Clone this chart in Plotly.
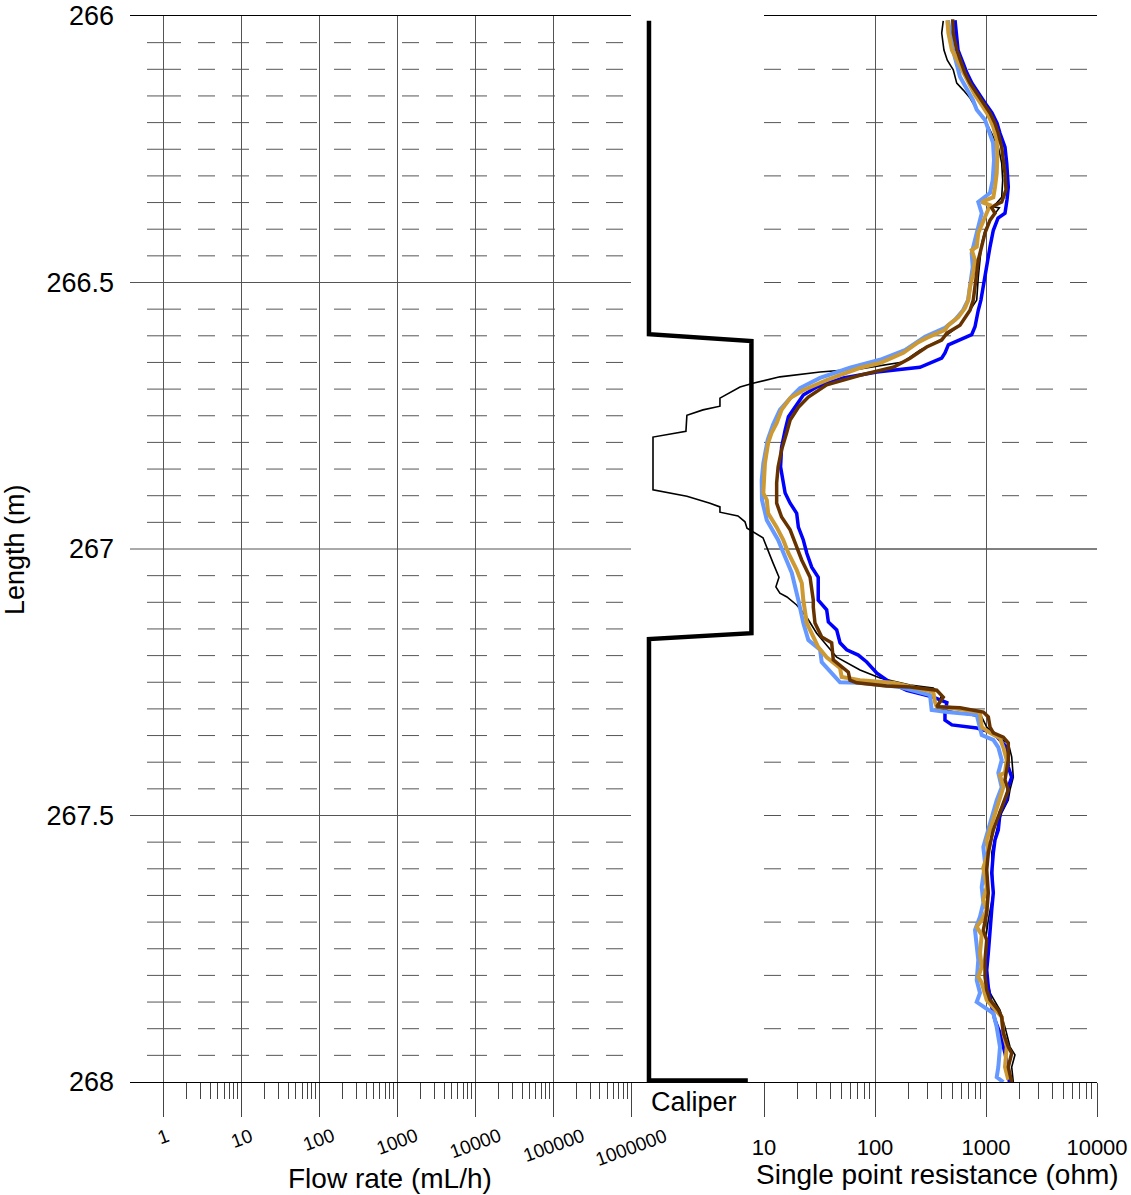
import math
import plotly.graph_objects as go

# ---------------- data ----------------
flow_ticks = [1, 10, 100, 1000, 10000, 100000, 1000000]
flow_tick_text = ["1", "10", "100", "1000", "10000", "100000", "1000000"]
spr_ticks = [10, 100, 1000, 10000]
spr_tick_text = ["10", "100", "1000", "10000"]
depth_ticks = [266, 266.5, 267, 267.5, 268]
depth_tick_text = ["266", "266.5", "267", "267.5", "268"]

# caliper log (relative units)
caliper_depth = [266.009, 266.597, 266.610, 267.158, 267.169, 267.997, 267.997]
caliper_value = [1.0, 1.0, 6.7, 6.7, 1.0, 1.0, 6.5]

# single point resistance logs (ohm)
black_depth = [266.009, 266.032, 266.064, 266.083, 266.101, 266.126, 266.139, 266.154, 266.180, 266.195,
               266.214, 266.246, 266.276, 266.308, 266.340, 266.351, 266.358, 266.360, 266.370, 266.383,
               266.402, 266.426, 266.458, 266.490, 266.533, 266.552, 266.580, 266.608, 266.627, 266.649,
               266.662, 266.668, 266.677, 266.689, 266.696, 266.717, 266.732, 266.739, 266.749, 266.779,
               266.790, 266.889, 266.901, 266.914, 266.921, 266.931, 266.938, 266.949, 266.961, 266.979,
               266.998, 267.026, 267.053, 267.071, 267.083, 267.090, 267.105, 267.128, 267.158, 267.203,
               267.227, 267.242, 267.255, 267.261, 267.274, 267.298, 267.308, 267.315, 267.334, 267.353,
               267.364, 267.390, 267.428, 267.452, 267.471, 267.495, 267.527, 267.570, 267.645, 267.696,
               267.728, 267.771, 267.803, 267.833, 267.865, 267.897, 267.934, 267.949, 267.972, 268.000]
black_ohm = [412, 399, 418, 448, 507, 545, 624, 718, 852, 980,
             1087, 1291, 1385, 1414, 1385, 1249, 1164, 1318, 1205, 1087,
             980, 915, 883, 852, 825, 718, 583, 385, 254, 179,
             73.3, 32, 13.9, 7.96, 6.08, 4.01, 4.01, 2.82, 2.02, 1.98,
             1.00, 1.00, 2.02, 3.26, 4.01, 4.01, 5.83, 6.74, 7.03, 9.79,
             10.6, 12.05, 13.65, 12.8, 13.9, 16.1, 19.7, 24.3, 29.8, 45.2,
             73.3, 111, 207, 335, 399, 360, 583, 915, 1015, 1249,
             1588, 1704, 1762, 1645, 1588, 1385, 1249, 1126, 1164, 1049,
             1000, 1015, 1015, 1087, 1337, 1483, 1645, 1824, 1704, 1762]

blue_depth = [266.008, 266.032, 266.064, 266.088, 266.107, 266.126, 266.144, 266.163, 266.182, 266.201,
              266.220, 266.246, 266.276, 266.321, 266.345, 266.370, 266.379, 266.402, 266.433, 266.471,
              266.508, 266.533, 266.552, 266.570, 266.583, 266.598, 266.617, 266.632, 266.642, 266.659,
              266.662, 266.668, 266.679, 266.696, 266.711, 266.734, 266.752, 266.777, 266.809, 266.846,
              266.871, 266.895, 266.914, 266.933, 266.959, 266.983, 267.008, 267.034, 267.053, 267.096,
              267.114, 267.137, 267.152, 267.176, 267.189, 267.199, 267.212, 267.233, 267.250, 267.265,
              267.278, 267.288, 267.308, 267.321, 267.330, 267.336, 267.345, 267.358, 267.372, 267.409,
              267.428, 267.447, 267.471, 267.495, 267.527, 267.546, 267.570, 267.608, 267.645, 267.677,
              267.728, 267.758, 267.790, 267.822, 267.859, 267.884, 267.908, 267.946, 267.978, 268.000]
blue_ohm = [526, 537, 560, 621, 674, 748, 847, 980, 1133, 1257,
            1337, 1483, 1537, 1588, 1546, 1483, 1283, 1164, 1087, 1015,
            946, 900, 852, 825, 796, 743, 458, 427, 399, 254,
            180, 104, 51.8, 29.8, 22.6, 19.0, 16.6, 15.5, 14.4, 14.1,
            14.9, 15.5, 17.2, 19.7, 20.4, 22.6, 24.3, 26.9, 30.8, 30.8,
            36.7, 38.0, 45.2, 48.4, 55.6, 70.7, 84.2, 104, 136, 193,
            335, 444, 427, 427, 493, 825, 1164, 1337, 1537, 1588,
            1704, 1588, 1537, 1337, 1291, 1205, 1164, 1126, 1164, 1126,
            1087, 1049, 1015, 1049, 1126, 1205, 1337, 1483, 1588, 1622]

lightblue_depth = [266.008, 266.032, 266.064, 266.114, 266.158, 266.176, 266.195, 266.238, 266.270, 266.308,
                   266.332, 266.349, 266.370, 266.407, 266.445, 266.471, 266.508, 266.533, 266.552, 266.570,
                   266.585, 266.602, 266.627, 266.645, 266.660, 266.679, 266.698, 266.711, 266.739, 266.767,
                   266.795, 266.839, 266.871, 266.908, 266.946, 266.983, 267.015, 267.045, 267.096, 267.139,
                   267.171, 267.189, 267.212, 267.250, 267.251, 267.259, 267.274, 267.302, 267.306, 267.311,
                   267.349, 267.358, 267.372, 267.396, 267.420, 267.447, 267.471, 267.495, 267.527, 267.559,
                   267.589, 267.634, 267.664, 267.690, 267.715, 267.747, 267.771, 267.809, 267.833, 267.850,
                   267.871, 267.897, 267.934, 267.972, 267.991, 268.000]
lightblue_ohm = [455, 474, 504, 583, 764, 825, 980, 1157, 1181, 1149,
                 1087, 852, 915, 825, 743, 759, 718, 689, 621, 526,
                 427, 282, 186, 111, 59.5, 32, 21.1, 18.3, 13.9, 12.05,
                 10.8, 9.86, 9.53, 9.59, 10.6, 13.4, 15.5, 17.8, 20.4, 22.6,
                 25.1, 32, 33.1, 48.4, 73.3, 168, 313, 324, 444, 825,
                 915, 1164, 1291, 1385, 1291, 1385, 1249, 1164, 1049, 946,
                 980, 915, 946, 883, 796, 825, 852, 825, 883, 825,
                 1164, 1249, 1337, 1291, 1249, 1432]

tan_depth = [266.008, 266.032, 266.064, 266.088, 266.107, 266.126, 266.148, 266.167, 266.186, 266.208,
             266.233, 266.265, 266.295, 266.321, 266.340, 266.345, 266.349, 266.355, 266.370, 266.388,
             266.407, 266.433, 266.439, 266.458, 266.482, 266.508, 266.533, 266.548, 266.565, 266.580,
             266.589, 266.604, 266.612, 266.632, 266.651, 266.660, 266.683, 266.702, 266.717, 266.739,
             266.764, 266.782, 266.801, 266.839, 266.895, 266.908, 266.933, 266.959, 266.983, 267.008,
             267.039, 267.064, 267.096, 267.139, 267.184, 267.203, 267.223, 267.240, 267.246, 267.251,
             267.268, 267.287, 267.296, 267.298, 267.306, 267.334, 267.345, 267.355, 267.372, 267.396,
             267.420, 267.424, 267.447, 267.477, 267.508, 267.527, 267.546, 267.570, 267.598, 267.634,
             267.658, 267.677, 267.696, 267.709, 267.724, 267.758, 267.784, 267.803, 267.814, 267.846,
             267.859, 267.878, 267.908, 267.934, 267.972, 267.996]
tan_ohm = [448, 458, 493, 563, 624, 693, 796, 915, 1049, 1164,
           1249, 1265, 1249, 1205, 1164, 1015, 915, 1087, 1015, 915,
           852, 825, 743, 796, 768, 718, 693, 647, 563, 458,
           427, 292, 246, 180, 111, 73.3, 36.7, 22.6, 17.2, 14.4,
           13.0, 11.7, 10.9, 10.2, 9.86, 10.6, 10.9, 13.0, 14.9, 16.6,
           19.7, 21.9, 22.6, 24.3, 30.8, 36.7, 48.4, 50.1, 73.3, 146,
           335, 347, 360, 474, 883, 915, 1087, 1337, 1432, 1537,
           1483, 1337, 1432, 1291, 1164, 1087, 1015, 1049, 946, 1015,
           946, 1015, 915, 825, 915, 883, 915, 852, 915, 1015,
           1164, 1385, 1432, 1537, 1483, 1588]

brown_depth = [266.006, 266.032, 266.064, 266.088, 266.107, 266.126, 266.144, 266.163, 266.182, 266.201,
               266.220, 266.246, 266.270, 266.295, 266.326, 266.349, 266.355, 266.360, 266.370, 266.383,
               266.407, 266.433, 266.458, 266.482, 266.508, 266.533, 266.552, 266.567, 266.580, 266.595,
               266.608, 266.621, 266.642, 266.659, 266.674, 266.692, 266.715, 266.734, 266.758, 266.782,
               266.814, 266.846, 266.876, 266.914, 266.940, 266.964, 266.996, 267.021, 267.053, 267.096,
               267.109, 267.139, 267.165, 267.176, 267.208, 267.231, 267.246, 267.251, 267.257, 267.259,
               267.265, 267.278, 267.296, 267.298, 267.306, 267.315, 267.334, 267.345, 267.353, 267.364,
               267.396, 267.415, 267.433, 267.452, 267.484, 267.508, 267.527, 267.540, 267.570, 267.602,
               267.645, 267.683, 267.715, 267.734, 267.771, 267.803, 267.827, 267.846, 267.865, 267.878,
               267.908, 267.934, 267.946, 267.972, 268.000]
brown_ohm = [501, 507, 545, 604, 647, 718, 825, 946, 1087, 1205,
             1291, 1385, 1432, 1483, 1514, 1385, 1205, 1126, 1205, 1087,
             980, 915, 852, 825, 796, 768, 718, 647, 583, 444,
             399, 292, 207, 146, 73.3, 36.7, 25.1, 20.4, 17.2, 16.0,
             14.4, 13.4, 13.0, 13.0, 14.4, 17.2, 19.7, 21.9, 26.0, 27.8,
             27.8, 28.8, 33.1, 40.7, 42.1, 57.5, 59.5, 68.4, 127, 207,
             360, 412, 360, 583, 946, 1049, 1087, 1164, 1432, 1588,
             1588, 1537, 1483, 1588, 1385, 1249, 1164, 1126, 1049, 1015,
             1049, 1015, 946, 1015, 980, 980, 1015, 1087, 1291, 1385,
             1432, 1588, 1704, 1588, 1704]

# ---------------- layout geometry (paper fractions) ----------------
W, H = 1131, 1195
FONT = "Arial, Liberation Sans, sans-serif"
GRID = "#555555"

y_dom = [1 - 1082 / H, 1 - 16 / H]
flow_dom = [130 / W, 631 / W]
cal_dom = [631 / W, 764 / W]
spr_dom = [764 / W, 1097 / W]
spr_wide_dom = [631 / W, 1097 / W]

flow_range = [-0.43, 6]
spr_range = [1, 4]
spr_wide_range = [1 - 133 / 111, 4]


def minor_vals(lo_exp, hi_exp):
    return [m * 10 ** e for e in range(lo_exp, hi_exp) for m in range(2, 10)]


fig = go.Figure()

# empty flow-rate and resistance frames so both tracks get drawn
fig.add_trace(go.Scatter(x=[], y=[], xaxis="x", yaxis="y", mode="lines",
                         showlegend=False, hoverinfo="skip"))
fig.add_trace(go.Scatter(x=[], y=[], xaxis="x3", yaxis="y", mode="lines",
                         showlegend=False, hoverinfo="skip"))

# caliper
fig.add_trace(go.Scatter(x=caliper_value, y=caliper_depth, xaxis="x2", yaxis="y",
                         mode="lines", line=dict(color="black", width=4.5),
                         showlegend=False, hoverinfo="skip"))

# resistance logs, drawn on a wide axis so low readings can run into the caliper track
spr_series = [
    (black_depth, black_ohm, "black", 1.6),
    (blue_depth, blue_ohm, "#0000FF", 3.5),
    (lightblue_depth, lightblue_ohm, "#6699FF", 4),
    (tan_depth, tan_ohm, "#CC9933", 4),
    (brown_depth, brown_ohm, "#663300", 3.5),
]
for d, r, c, w in spr_series:
    fig.add_trace(go.Scatter(x=r, y=d, xaxis="x4", yaxis="y", mode="lines",
                             line=dict(color=c, width=w), showlegend=False,
                             hoverinfo="skip"))

# ---------------- gridlines as shapes ----------------
shapes = []
# left track: solid every 0.5 m, dashed every 0.05 m
left_dash = ",".join(["34px", "17px"] + ["17px"] * 28)
n_steps = 40
for i in range(1, n_steps):
    yv = 266 + i * 0.05
    if i % 10 == 0:
        shapes.append(dict(type="line", xref="x domain", yref="y", x0=0, x1=1,
                           y0=yv, y1=yv, layer="below",
                           line=dict(color=GRID, width=1)))
    else:
        shapes.append(dict(type="line", xref="x domain", yref="y",
                           x0=17 / 501, x1=1, y0=yv, y1=yv, layer="below",
                           line=dict(color=GRID, width=1, dash=left_dash)))
# right track: dashed every 0.1 m, solid at 267 m
for i in range(1, 20):
    yv = 266 + i * 0.1
    if i == 10:
        shapes.append(dict(type="line", xref="x3 domain", yref="y", x0=0, x1=1,
                           y0=yv, y1=yv, layer="below",
                           line=dict(color="black", width=1)))
    else:
        shapes.append(dict(type="line", xref="x3 domain", yref="y", x0=0, x1=1,
                           y0=yv, y1=yv, layer="below",
                           line=dict(color=GRID, width=1, dash="17px,17px")))

# ---------------- annotations ----------------
annotations = []
for v, t in zip(flow_ticks, flow_tick_text):
    annotations.append(dict(x=math.log10(v), xref="x", y=1 - 1122 / H, yref="paper",
                            text=t, showarrow=False, textangle=-20,
                            xanchor="center", yanchor="top",
                            font=dict(family=FONT, size=19, color="black")))
annotations += [
    dict(x=390 / W, y=1 - 1178 / H, xref="paper", yref="paper", text="Flow rate (mL/h)",
         showarrow=False, xanchor="center", yanchor="middle",
         font=dict(family=FONT, size=28, color="black")),
    dict(x=937 / W, y=1 - 1174 / H, xref="paper", yref="paper",
         text="Single point resistance (ohm)", showarrow=False,
         xanchor="center", yanchor="middle",
         font=dict(family=FONT, size=28, color="black")),
    dict(x=15 / W, y=1 - 550 / H, xref="paper", yref="paper", text="Length (m)",
         showarrow=False, textangle=-90, xanchor="center", yanchor="middle",
         font=dict(family=FONT, size=27, color="black")),
    dict(x=694 / W, y=1 - 1102 / H, xref="paper", yref="paper", text="Caliper",
         showarrow=False, xanchor="center", yanchor="middle",
         font=dict(family=FONT, size=27, color="black")),
]

fig.update_layout(
    width=W, height=H,
    margin=dict(l=0, r=0, t=0, b=0, autoexpand=False),
    paper_bgcolor="white",
    plot_bgcolor="rgba(0,0,0,0)",
    showlegend=False,
    font=dict(family=FONT, color="black"),
    shapes=shapes,
    annotations=annotations,
    yaxis=dict(domain=y_dom, range=[268, 266], anchor="x", automargin=False,
               showgrid=False, zeroline=False, showline=False, ticks="",
               tickmode="array", tickvals=depth_ticks, ticktext=depth_tick_text,
               tickfont=dict(family=FONT, size=27, color="black"),
               ticklabelstandoff=15),
    xaxis=dict(domain=flow_dom, type="log", range=flow_range, anchor="y", automargin=False,
               showline=True, linecolor="black", linewidth=1, mirror=True,
               showgrid=True, gridcolor=GRID, gridwidth=1, zeroline=False,
               ticks="outside", ticklen=34, tickwidth=1, tickcolor="#444",
               tickmode="array", tickvals=flow_ticks, showticklabels=False,
               minor=dict(ticks="outside", ticklen=16, tickwidth=1, tickcolor="#444",
                          tickvals=minor_vals(0, 6), showgrid=False)),
    xaxis2=dict(domain=cal_dom, range=[0, 7.4], anchor="y", automargin=False,
                showline=True, linecolor="black", linewidth=1, mirror=False,
                showgrid=False, zeroline=False, ticks="", showticklabels=False),
    xaxis3=dict(domain=spr_dom, type="log", range=spr_range, anchor="y", automargin=False,
                showline=True, linecolor="black", linewidth=1, mirror=True,
                showgrid=True, gridcolor=GRID, gridwidth=1, zeroline=False,
                ticks="outside", ticklen=34, tickwidth=1, tickcolor="#444",
                tickmode="array", tickvals=spr_ticks, ticktext=spr_tick_text,
                tickfont=dict(family=FONT, size=22, color="black"),
                ticklabelstandoff=12,
                minor=dict(ticks="outside", ticklen=16, tickwidth=1, tickcolor="#444",
                           tickvals=minor_vals(1, 4), showgrid=False)),
    xaxis4=dict(domain=spr_wide_dom, type="log", range=spr_wide_range, anchor="y",
                visible=False, automargin=False),
)

fig.write_html("out.html")
